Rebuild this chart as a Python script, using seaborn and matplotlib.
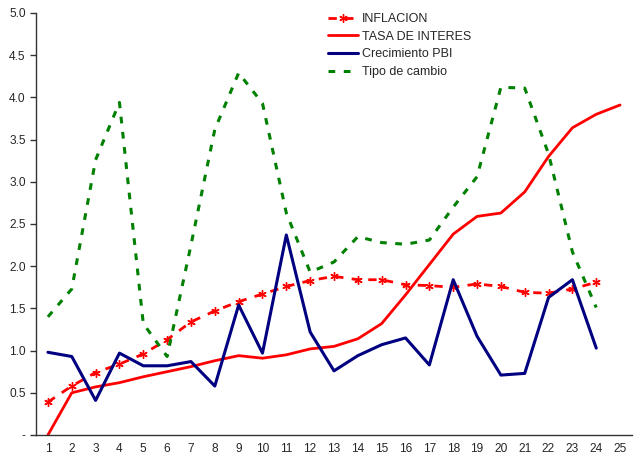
import numpy as np
import pandas as pd
import matplotlib
matplotlib.use("Agg")

import matplotlib.pyplot as plt
import seaborn as sns
from matplotlib.ticker import FuncFormatter, MultipleLocator

# datos
periodos = list(range(1, 26))
inflacion = [0.39, 0.58, 0.74, 0.84, 0.96, 1.13, 1.34, 1.47, 1.58, 1.67, 1.76, 1.83,
             1.88, 1.84, 1.84, 1.78, 1.77, 1.75, 1.79, 1.76, 1.69, 1.68, 1.73, 1.81]
tasa_interes = [0.00, 0.50, 0.57, 0.62, 0.69, 0.75, 0.81, 0.88, 0.94, 0.91, 0.95, 1.02,
                1.05, 1.14, 1.32, 1.66, 2.02, 2.38, 2.59, 2.63, 2.88, 3.30, 3.64, 3.80, 3.91]
crecimiento_pbi = [0.98, 0.93, 0.41, 0.97, 0.82, 0.82, 0.87, 0.58, 1.54, 0.97, 2.37, 1.22,
                   0.76, 0.94, 1.07, 1.15, 0.83, 1.84, 1.17, 0.71, 0.73, 1.63, 1.84, 1.03]
tipo_cambio = [1.40, 1.73, 3.26, 3.94, 1.32, 0.93, 2.25, 3.62, 4.29, 3.93, 2.63, 1.93,
               2.05, 2.35, 2.28, 2.26, 2.31, 2.70, 3.06, 4.12, 4.11, 3.33, 2.17, 1.51]

sns.set_style("white")
plt.rcParams['font.family'] = ['Liberation Sans', 'DejaVu Sans']

fig = plt.figure(figsize=(6.34, 4.57), dpi=100)
ax = fig.add_axes([36 / 634, 1 - 435 / 457, 596 / 634, 422 / 457])

sns.lineplot(x=periodos[:24], y=inflacion, ax=ax, color="#FF0000", lw=2,
             marker=(6, 2, 0), markersize=6, markeredgecolor="#FF0000", markeredgewidth=1,
             dashes=(3, 3), label="INFLACION")
sns.lineplot(x=periodos, y=tasa_interes, ax=ax, color="#FF0000", lw=2,
             label="TASA DE INTERES")
sns.lineplot(x=periodos[:24], y=crecimiento_pbi, ax=ax, color="#000080", lw=2.2,
             label="Crecimiento PBI")
sns.lineplot(x=periodos[:24], y=tipo_cambio, ax=ax, color="#008000", lw=2.2,
             dashes=(2.2, 2.8), label="Tipo de cambio")

ax.set_xlim(0.5, 25.5)
ax.set_ylim(0, 5)
ax.set_xticks(periodos)
ax.set_xticks(np.arange(0.5, 26, 1), minor=True)
ax.tick_params(axis="x", which="major", length=0, labelsize=8.6, pad=6)
ax.tick_params(axis="x", which="minor", length=4, width=1, color="#333333", direction="out")
ax.yaxis.set_major_locator(MultipleLocator(0.5))
ax.yaxis.set_major_formatter(FuncFormatter(lambda v, p: "-" if abs(v) < 1e-9 else f"{v:.1f}"))
ax.tick_params(axis="y", length=4, width=1, color="#333333", direction="out", labelsize=8.6, left=True)
ax.set_xlabel("")
ax.set_ylabel("")

for s in ["top", "right"]:
    ax.spines[s].set_visible(False)
for s in ["left", "bottom"]:
    ax.spines[s].set_color("#333333")
    ax.spines[s].set_linewidth(1)

ax.legend(loc="upper left", bbox_to_anchor=(328 / 634, 1 - 13 / 457), bbox_transform=fig.transFigure,
          frameon=False, fontsize=9, handlelength=2.4, handletextpad=0.3,
          labelspacing=0.45, borderaxespad=0, borderpad=0)

fig.savefig("out.png", dpi=100)
